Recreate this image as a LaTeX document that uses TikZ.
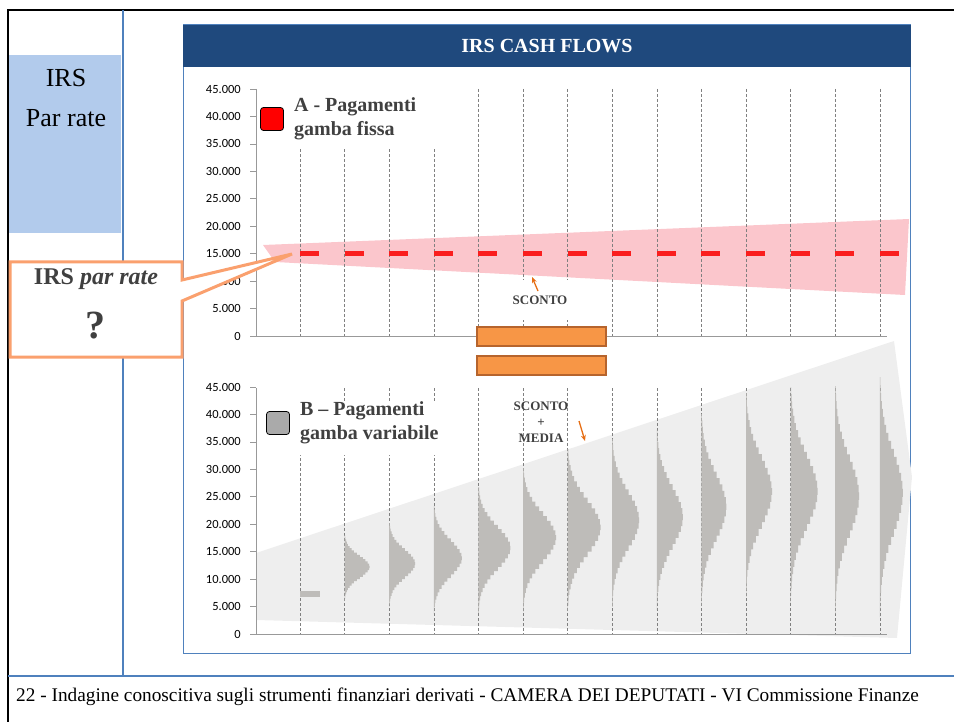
\documentclass[tikz,border=0pt]{standalone}
\usepackage{fontspec}
\setmainfont{Liberation Serif}
\newfontfamily\axisfont{Carlito}
\usetikzlibrary{arrows.meta,positioning}

\definecolor{hdrblue}{RGB}{31,73,125}
\definecolor{frameblue}{RGB}{79,129,189}
\definecolor{leftblue}{RGB}{178,203,236}
\definecolor{pinkband}{RGB}{251,198,204}
\definecolor{dashred}{RGB}{250,30,30}
\definecolor{keyred}{RGB}{255,0,0}
\definecolor{keygray}{RGB}{170,170,170}
\definecolor{bandgray}{RGB}{238,238,238}
\definecolor{histgray}{RGB}{190,188,185}
\definecolor{gridgray}{RGB}{128,128,128}
\definecolor{barorange}{RGB}{247,150,70}
\definecolor{barbrown}{RGB}{182,100,45}
\definecolor{callorange}{RGB}{250,160,110}
\definecolor{arroworange}{RGB}{230,110,20}
\definecolor{darktext}{RGB}{64,64,64}

\begin{document}
\begin{tikzpicture}[x=1pt, y=-1pt,
		grid_style/.style={draw=gridgray, dash pattern=on 3pt off 2pt, line width=0.6pt},
		axis_style/.style={draw=gridgray!80, line width=0.8pt},
		tick_style/.style={font=\axisfont\fontsize{12.5}{12.5}\selectfont, anchor=east, inner sep=0pt},
		key_style/.style={draw=black, rounded corners=3pt, minimum size=23, inner sep=0pt, line width=0.8pt},
		legend_style/.style={font=\bfseries\fontsize{20}{24}\selectfont, text=darktext, align=left, inner sep=0pt},
		small_style/.style={font=\bfseries\fontsize{13}{16}\selectfont, text=darktext, align=center, inner sep=1pt},
		bar_style/.style={fill=barorange, draw=barbrown, line width=2pt, minimum width=129, minimum height=19, inner sep=0pt},
		hint_arrow/.style={draw=arroworange, line width=1.3pt, -{Stealth[length=6pt, width=5pt]}}]

	\useasboundingbox (0,0) rectangle (954,722);

	% frame
	\draw[black, line width=2.5pt] (8,722) -- (8,10) -- (954,10);
	\draw[frameblue, line width=2pt] (123,10) -- (123,676);
	\draw[frameblue, line width=2.5pt] (8,676) -- (954,676);

	% left title
	\node[fill=leftblue, minimum width=112, minimum height=178, inner sep=0pt, anchor=north west] (irsbox) at (9,55) {};
	\node[font=\fontsize{26}{26}\selectfont] (irs) at (66,78) {IRS};
	\node[font=\fontsize{26}{26}\selectfont] (parrate) at (66,118) {Par rate};

	% panel
	\draw[frameblue, line width=1pt] (183,25) rectangle (910,653);
	\fill[hdrblue] (183,25) rectangle (911,67);
	\node[font=\bfseries\fontsize{20}{20}\selectfont, text=white] (title) at (547,46) {IRS CASH FLOWS};

	% bands
	\fill[pinkband] (263,245) -- (909,219) -- (905,295) -- (275,262) -- cycle;
	\fill[bandgray] (256,553) -- (894,341) -- (912,477) -- (897,638) -- (256,620) -- cycle;

	% grid lines
	\foreach \i in {0,...,13} {
		\draw[grid_style] ({300+\i*44.6},89) -- ({300+\i*44.6},336);
		\draw[grid_style] ({300+\i*44.6},388) -- ({300+\i*44.6},634);
	}

	% axes
	\draw[axis_style] (256,89) -- (256,336) -- (887,336);
	\draw[axis_style] (256,388) -- (256,634) -- (887,634);
	\foreach \lab [count=\k from 0] in {0,5.000,10.000,15.000,20.000,25.000,30.000,35.000,40.000,45.000} {
		\node[tick_style] (ta\k) at (241,{336-\k*27.44}) {\lab};
		\node[tick_style] (tb\k) at (241,{634-\k*27.44}) {\lab};
		\draw[axis_style] (250,{336-\k*27.44}) -- (256,{336-\k*27.44});
		\draw[axis_style] (250,{634-\k*27.44}) -- (256,{634-\k*27.44});
	}

	% fixed leg
	\foreach \i in {0,...,13}
		\fill[dashred] ({300+\i*44.6},251.5) rectangle +(19,5);

	% floating leg
	\fill[histgray] (300,591) rectangle (320,597);
	\foreach \k/\mu/\s/\w in {1/568/11/25, 2/565/14/26, 3/560/18/28, 4/550/21/32, 5/540/24/33,
		6/530/27/33, 7/523/28/27, 8/520/30/26, 9/510/32/25, 10/495/34/26, 11/495/36/27,
		12/500/38/24, 13/497/40/23} {
		\pgfmathsetmacro\xk{300+\k*44.6}
		\fill[histgray] (\xk,{\mu-3*\s}) -- plot[const plot, domain=-3:3, samples=31]
			({\xk+\w*exp(-(\x)*(\x)/2)},{\mu+\x*\s}) -- (\xk,{\mu+3*\s}) -- cycle;
	}

	% legends
	\fill[white] (258,88) rectangle (445,149);
	\node[key_style, fill=keyred] (keyA) at (272,119) {};
	\node[legend_style, right=10pt of keyA] (legA) {A - Pagamenti\\gamba fissa};
	\fill[white] (258,387) -- (302,387) -- (302,403) -- (446,403) -- (446,455) -- (258,455) -- cycle;
	\node[key_style, fill=keygray] (keyB) at (278,423) {};
	\node[legend_style, right=10pt of keyB] (legB) {B -- Pagamenti\\gamba variabile};

	% discount labels
	\node[small_style, fill=white, minimum width=60, minimum height=40] (sconto) at (540,300) {SCONTO};
	\node[small_style] (scmedia) at (541,422) {SCONTO\\+\\MEDIA};
	\coordinate (scTail) at (538,291);
	\coordinate (scTip) at (532,277);
	\draw[hint_arrow] (scTail) -- (scTip);
	\coordinate (smTail) at (579,421);
	\coordinate (smTip) at (585,441);
	\draw[hint_arrow] (smTail) -- (smTip);

	% bars
	\node[bar_style] (barA) at (541.5,336.5) {};
	\node[bar_style] (barB) at (541.5,365.5) {};

	% callout
	\coordinate (callTip) at (292,254);
	\filldraw[fill=white, draw=callorange, line width=3pt, line join=miter]
		(10,262) -- (182,262) -- (182,280) -- (callTip) -- (182,301) -- (182,357) -- (10,357) -- cycle;
	\node[font=\bfseries\fontsize{24}{24}\selectfont, text=darktext] (callText) at (96,279) {IRS \textit{par rate}};
	\node[font=\bfseries\fontsize{40}{40}\selectfont, text=darktext] (callQ) at (95,326) {?};

	% footer
	\node[anchor=west, font=\fontsize{19.3}{19.3}\selectfont, inner sep=0pt] (footer) at (16,697)
		{22 - Indagine conoscitiva sugli strumenti finanziari derivati - CAMERA DEI DEPUTATI - VI Commissione Finanze};
\end{tikzpicture}
\end{document}
